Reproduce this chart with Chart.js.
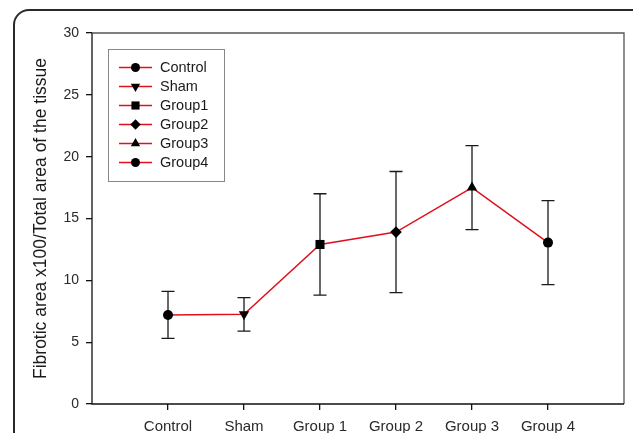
<!DOCTYPE html>
<html>
<head>
<meta charset="utf-8">
<script src="https://cdn.jsdelivr.net/npm/chart.js@4/dist/chart.umd.min.js"></script>
<style>
    html, body { margin: 0; padding: 0; background: #ffffff; overflow: hidden; }
    #wrap { position: relative; width: 633px; height: 433px; }
    #frame {
        position: absolute; left: 13px; top: 9px; width: 640px; height: 500px;
        border: 2px solid #2a2a2a; border-radius: 16px; box-sizing: border-box;
    }
    #fibrosisChart { position: absolute; left: 0; top: 0; }
</style>
</head>
<body>
<div id="wrap">
    <div id="frame"></div>
    <canvas id="fibrosisChart" width="633" height="433"></canvas>
</div>
<script>
// axis categories and legend names
const categories = ["Control", "Sham", "Group 1", "Group 2", "Group 3", "Group 4"];
const legendNames = ["Control", "Sham", "Group1", "Group2", "Group3", "Group4"];
// mean fibrotic area and error (+/-)
const meanValues = [7.2, 7.25, 12.9, 13.9, 17.5, 13.05];
const errorValues = [1.9, 1.35, 4.1, 4.9, 3.4, 3.4];
const yTicks = [0, 5, 10, 15, 20, 25, 30];

// marker styles, one per group
const markerStyles = ["circle", "triangle", "rect", "rectRot", "triangle", "circle"];
const markerRotation = [0, 180, 0, 0, 0, 0];
const markerRadius = [5, 6, 6.4, 5.8, 6, 5];

const RED = "#e0101e";
const FONT = "'Liberation Sans', Arial, sans-serif";

const points = categories.map((c, i) => ({ x: i + 1, y: meanValues[i] }));

function drawMarker(ctx, style, rot, r, x, y) {
    ctx.save();
    ctx.translate(x, y);
    ctx.rotate(rot * Math.PI / 180);
    ctx.fillStyle = "#000";
    ctx.beginPath();
    if (style === "circle") {
        ctx.arc(0, 0, r, 0, Math.PI * 2);
    } else if (style === "triangle") {
        for (let k = 0; k < 3; k++) {
            const a = k * 2 * Math.PI / 3;
            const px = Math.sin(a) * r, py = -Math.cos(a) * r;
            k === 0 ? ctx.moveTo(px, py) : ctx.lineTo(px, py);
        }
        ctx.closePath();
    } else if (style === "rect") {
        const s = r * Math.SQRT1_2;
        ctx.rect(-s, -s, 2 * s, 2 * s);
    } else if (style === "rectRot") {
        ctx.moveTo(0, -r); ctx.lineTo(r, 0); ctx.lineTo(0, r); ctx.lineTo(-r, 0);
        ctx.closePath();
    }
    ctx.fill();
    ctx.restore();
}

const errorBarPlugin = {
    id: "errorBars",
    beforeDatasetsDraw(chart) {
        const { ctx, scales: { x, y } } = chart;
        ctx.save();
        ctx.strokeStyle = "#1a1a1a";
        ctx.lineWidth = 1.3;
        meanValues.forEach((m, i) => {
            const px = x.getPixelForValue(i + 1);
            const top = y.getPixelForValue(m + errorValues[i]);
            const bot = y.getPixelForValue(m - errorValues[i]);
            ctx.beginPath();
            ctx.moveTo(px, top); ctx.lineTo(px, bot);
            ctx.moveTo(px - 6.5, top); ctx.lineTo(px + 6.5, top);
            ctx.moveTo(px - 6.5, bot); ctx.lineTo(px + 6.5, bot);
            ctx.stroke();
        });
        ctx.restore();
    }
};

const framePlugin = {
    id: "plotFrame",
    afterDraw(chart) {
        const { ctx, chartArea: a } = chart;
        ctx.save();
        ctx.lineWidth = 1.3;
        ctx.strokeStyle = "#555";
        ctx.beginPath();
        ctx.moveTo(a.left, a.top); ctx.lineTo(a.right, a.top); ctx.lineTo(a.right, a.bottom);
        ctx.stroke();
        ctx.strokeStyle = "#111";
        ctx.beginPath();
        ctx.moveTo(a.left, a.top); ctx.lineTo(a.left, a.bottom); ctx.lineTo(a.right, a.bottom);
        ctx.stroke();
        ctx.restore();
    }
};

const legendPlugin = {
    id: "boxLegend",
    afterDraw(chart) {
        const { ctx, chartArea: a } = chart;
        const bx = a.left + 16, by = a.top + 16, bw = 116, bh = 132;
        ctx.save();
        ctx.fillStyle = "#fff";
        ctx.fillRect(bx, by, bw, bh);
        ctx.strokeStyle = "#888";
        ctx.lineWidth = 1;
        ctx.strokeRect(bx + 0.5, by + 0.5, bw, bh);
        ctx.font = "14.5px " + FONT;
        ctx.textBaseline = "middle";
        legendNames.forEach((name, i) => {
            const ry = by + 18.5 + i * 19;
            ctx.strokeStyle = RED;
            ctx.lineWidth = 1.3;
            ctx.beginPath();
            ctx.moveTo(bx + 11, ry); ctx.lineTo(bx + 44, ry);
            ctx.stroke();
            drawMarker(ctx, markerStyles[i], markerRotation[i], markerRadius[i] * 0.9, bx + 27.5, ry);
            ctx.fillStyle = "#1a1a1a";
            ctx.fillText(name, bx + 52, ry);
        });
        ctx.restore();
    }
};

new Chart(document.getElementById("fibrosisChart"), {
    type: "line",
    data: {
        datasets: [{
            label: "Fibrotic area",
            data: points,
            borderColor: RED,
            borderWidth: 1.5,
            tension: 0,
            fill: false,
            pointStyle: markerStyles,
            pointRotation: markerRotation,
            pointRadius: markerRadius,
            pointBackgroundColor: "#000",
            pointBorderColor: "#000",
            pointBorderWidth: 0
        }]
    },
    options: {
        responsive: false,
        animation: false,
        devicePixelRatio: 1,
        layout: { padding: { top: 33, right: 9, left: 0, bottom: 0 } },
        plugins: {
            legend: { display: false },
            tooltip: { enabled: false }
        },
        scales: {
            x: {
                type: "linear",
                min: 0,
                max: 7,
                afterBuildTicks(axis) {
                    axis.ticks = categories.map((c, i) => ({ value: i + 1 }));
                },
                afterFit(axis) { axis.height = 29; },
                grid: { drawOnChartArea: false, tickLength: 6, color: "#111", lineWidth: 1.3 },
                border: { display: false },
                ticks: {
                    padding: 8,
                    color: "#2a2a2a",
                    font: { family: FONT, size: 15 },
                    callback: v => categories[v - 1]
                }
            },
            y: {
                min: 0,
                max: 30,
                afterBuildTicks(axis) {
                    axis.ticks = yTicks.map(v => ({ value: v }));
                },
                afterFit(axis) { axis.width = 92; },
                grid: { drawOnChartArea: false, tickLength: 6, color: "#111", lineWidth: 1.3 },
                border: { display: false },
                ticks: {
                    padding: 7,
                    color: "#2a2a2a",
                    font: { family: FONT, size: 14 }
                },
                title: {
                    display: true,
                    text: "Fibrotic area x100/Total area of the tissue",
                    color: "#1a1a1a",
                    font: { family: FONT, size: 17.5 },
                    padding: { top: 31, bottom: 0 }
                }
            }
        }
    },
    plugins: [errorBarPlugin, framePlugin, legendPlugin]
});
</script>
</body>
</html>
